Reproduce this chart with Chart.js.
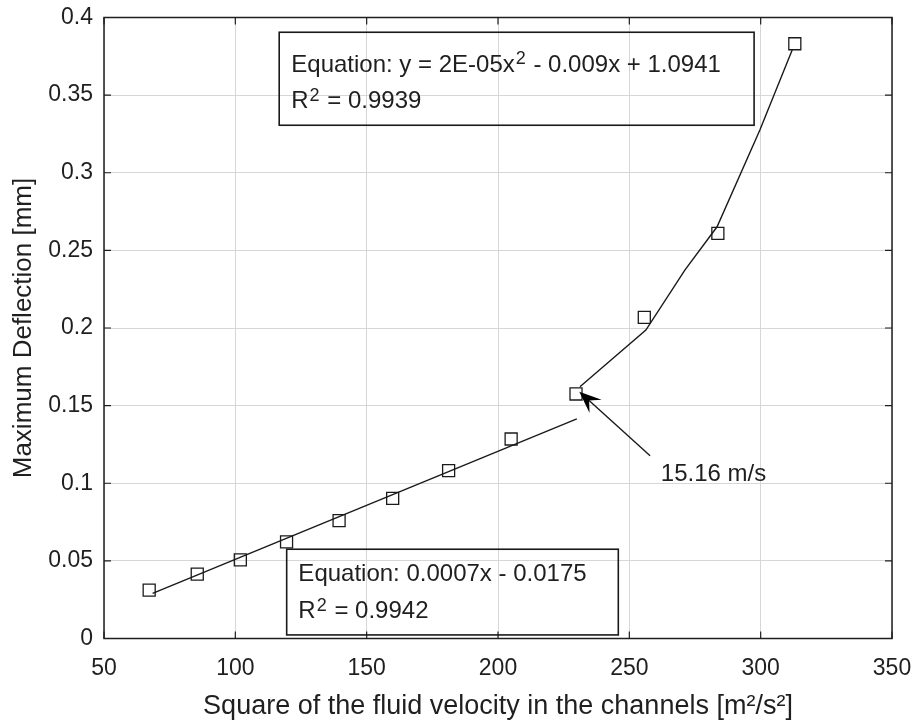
<!DOCTYPE html>
<html><head><meta charset="utf-8">
<script src="https://cdn.jsdelivr.net/npm/chart.js@4/dist/chart.umd.min.js"></script>
<style>html,body{margin:0;padding:0;background:#fff;} canvas{display:block;}</style>
</head><body>
<canvas id="c" width="916" height="723"></canvas>
<script>
// ---- data ----
const velocitySquared = [67.2, 85.5, 101.9, 119.5, 139.5, 159.9, 181.2, 205.0, 229.7, 255.7, 283.7, 313.0];
const maxDeflection   = [0.0312, 0.0415, 0.0506, 0.0622, 0.0759, 0.0903, 0.1081, 0.1285, 0.1575, 0.2069, 0.2610, 0.3831];
const linearFitX = [68.5, 230.0];
const linearFitY = [0.0291, 0.1414];
const quadFitX = [231.2, 256.3, 271.2, 283.4, 299.7, 312.0];
const quadFitY = [0.1622, 0.1987, 0.2374, 0.2652, 0.3275, 0.3791];
const xTickLabels = ['50', '100', '150', '200', '250', '300', '350'];
const yTickLabels = ['0', '0.05', '0.1', '0.15', '0.2', '0.25', '0.3', '0.35', '0.4'];
const xTitle = 'Square of the fluid velocity in the channels [m\u00B2/s\u00B2]';
const yTitle = 'Maximum Deflection [mm]';
// text segments: even index = normal, odd index = superscript
const quadEquationLines = [['Equation: y = 2E-05x', '2', ' - 0.009x + 1.0941'], ['R', '2', ' = 0.9939']];
const linEquationLines = [['Equation: 0.0007x - 0.0175'], ['R', '2', ' = 0.9942']];
const arrowLabel = '15.16 m/s';

// ---- annotation placement (data coordinates) ----
const quadBox = {x0: 116.7, x1: 297.5, y0: 0.3905, y1: 0.3306, textX: 121.3, baselines: [0.3651, 0.3415]};
const linBox  = {x0: 119.55, x1: 245.8, y0: 0.0575, y1: 0.0023, textX: 124.0, baselines: [0.0372, 0.0130]};
const arrowSpec = {fromX: 257.9, fromY: 0.1177, toX: 230.95, toY: 0.1590, labelX: 262.0, labelY: 0.1016};

const FONT = "'Liberation Sans', Arial, Helvetica, sans-serif";
const INK = '#1f1f1f';

function xy(xs, ys) { return xs.map((x, i) => ({x: x, y: ys[i]})); }

function drawRich(ctx, parts, x, y, size) {
  let cx = x;
  ctx.textBaseline = 'alphabetic';
  ctx.textAlign = 'left';
  parts.forEach((p, i) => {
    if (i % 2 === 1) {
      ctx.font = Math.round(size * 0.75) + 'px ' + FONT;
      ctx.fillText(p, cx + 1, y - size * 0.3);
      cx += ctx.measureText(p).width + 2;
    } else {
      ctx.font = size + 'px ' + FONT;
      ctx.fillText(p, cx, y);
      cx += ctx.measureText(p).width;
    }
  });
}

const decorPlugin = {
  id: 'decor',
  afterDatasetsDraw(chart) {
    const ctx = chart.ctx;
    const xs = chart.scales.x, ys = chart.scales.y;
    const a = chart.chartArea;
    ctx.save();
    // axes box
    ctx.strokeStyle = INK;
    ctx.lineWidth = 1.5;
    ctx.strokeRect(a.left, a.top, a.right - a.left, a.bottom - a.top);
    // inward tick marks on all sides
    ctx.lineWidth = 1.2;
    ctx.beginPath();
    xs.ticks.forEach(t => {
      const px = xs.getPixelForValue(t.value);
      ctx.moveTo(px, a.bottom); ctx.lineTo(px, a.bottom - 7);
      ctx.moveTo(px, a.top); ctx.lineTo(px, a.top + 7);
    });
    ys.ticks.forEach(t => {
      const py = ys.getPixelForValue(t.value);
      ctx.moveTo(a.left, py); ctx.lineTo(a.left + 7, py);
      ctx.moveTo(a.right, py); ctx.lineTo(a.right - 7, py);
    });
    ctx.stroke();

    // equation boxes
    ctx.fillStyle = INK;
    [[quadBox, quadEquationLines], [linBox, linEquationLines]].forEach(([b, lines]) => {
      const l = xs.getPixelForValue(b.x0), r = xs.getPixelForValue(b.x1);
      const t = ys.getPixelForValue(b.y0), bt = ys.getPixelForValue(b.y1);
      ctx.strokeStyle = '#1a1a1a';
      ctx.lineWidth = 1.6;
      ctx.strokeRect(l, t, r - l, bt - t);
      lines.forEach((parts, i) => {
        drawRich(ctx, parts, xs.getPixelForValue(b.textX), ys.getPixelForValue(b.baselines[i]), 24);
      });
    });

    // arrow
    const fx = xs.getPixelForValue(arrowSpec.fromX), fy = ys.getPixelForValue(arrowSpec.fromY);
    const tx = xs.getPixelForValue(arrowSpec.toX), ty = ys.getPixelForValue(arrowSpec.toY);
    const dx = fx - tx, dy = fy - ty, len = Math.hypot(dx, dy);
    const ux = dx / len, uy = dy / len, nx = -uy, ny = ux;
    const L = 22, W = 9;
    ctx.strokeStyle = '#1a1a1a';
    ctx.lineWidth = 1.4;
    ctx.beginPath();
    ctx.moveTo(fx, fy);
    ctx.lineTo(tx + ux * L * 0.6, ty + uy * L * 0.6);
    ctx.stroke();
    ctx.fillStyle = '#000';
    ctx.beginPath();
    ctx.moveTo(tx, ty);
    ctx.lineTo(tx + ux * L + nx * W, ty + uy * L + ny * W);
    ctx.lineTo(tx + ux * L * 0.6, ty + uy * L * 0.6);
    ctx.lineTo(tx + ux * L - nx * W, ty + uy * L - ny * W);
    ctx.closePath();
    ctx.fill();
    ctx.fillStyle = INK;
    drawRich(ctx, [arrowLabel], xs.getPixelForValue(arrowSpec.labelX), ys.getPixelForValue(arrowSpec.labelY), 24);
    ctx.restore();
  }
};

new Chart(document.getElementById('c'), {
  type: 'scatter',
  data: {
    datasets: [
      {
        label: 'Linear fit',
        data: xy(linearFitX, linearFitY),
        showLine: true, borderColor: '#1a1a1a', borderWidth: 1.4,
        pointRadius: 0, fill: false, order: 2
      },
      {
        label: 'Quadratic fit',
        data: xy(quadFitX, quadFitY),
        showLine: true, borderColor: '#1a1a1a', borderWidth: 1.4,
        pointRadius: 0, fill: false, tension: 0, order: 2
      },
      {
        label: 'Maximum deflection',
        data: xy(velocitySquared, maxDeflection),
        showLine: false, pointStyle: 'rect', pointRadius: 8.5,
        pointBorderColor: '#1a1a1a', pointBackgroundColor: 'rgba(0,0,0,0)', pointBorderWidth: 1.3,
        order: 1
      }
    ]
  },
  options: {
    responsive: false,
    animation: false,
    layout: {padding: {top: 17.5, right: 24, left: 0, bottom: 0}},
    plugins: {legend: {display: false}, tooltip: {enabled: false}},
    scales: {
      x: {
        type: 'linear', min: 50, max: 350,
        afterFit(s) { s.height = 84.5; s.paddingLeft = 0; s.paddingRight = 0; },
        border: {display: false},
        grid: {color: '#d6d6d6', lineWidth: 1, drawTicks: false},
        ticks: {
          stepSize: 50, padding: 16, color: INK, maxRotation: 0,
          font: {family: FONT, size: 23},
          callback: (v, i) => xTickLabels[i]
        },
        title: {display: true, text: xTitle, color: INK, padding: {top: 0, bottom: 0}, font: {family: FONT, size: 27}}
      },
      y: {
        type: 'linear', min: 0, max: 0.4,
        afterFit(s) { s.width = 104; s.paddingTop = 0; s.paddingBottom = 0; },
        border: {display: false},
        grid: {color: '#d6d6d6', lineWidth: 1, drawTicks: false},
        ticks: {
          stepSize: 0.05, padding: 11, color: INK,
          font: {family: FONT, size: 23},
          callback: (v, i) => yTickLabels[i]
        },
        title: {display: true, text: yTitle, color: INK, padding: {top: 8, bottom: 0}, font: {family: FONT, size: 26}}
      }
    }
  },
  plugins: [decorPlugin]
});
</script>
</body></html>
